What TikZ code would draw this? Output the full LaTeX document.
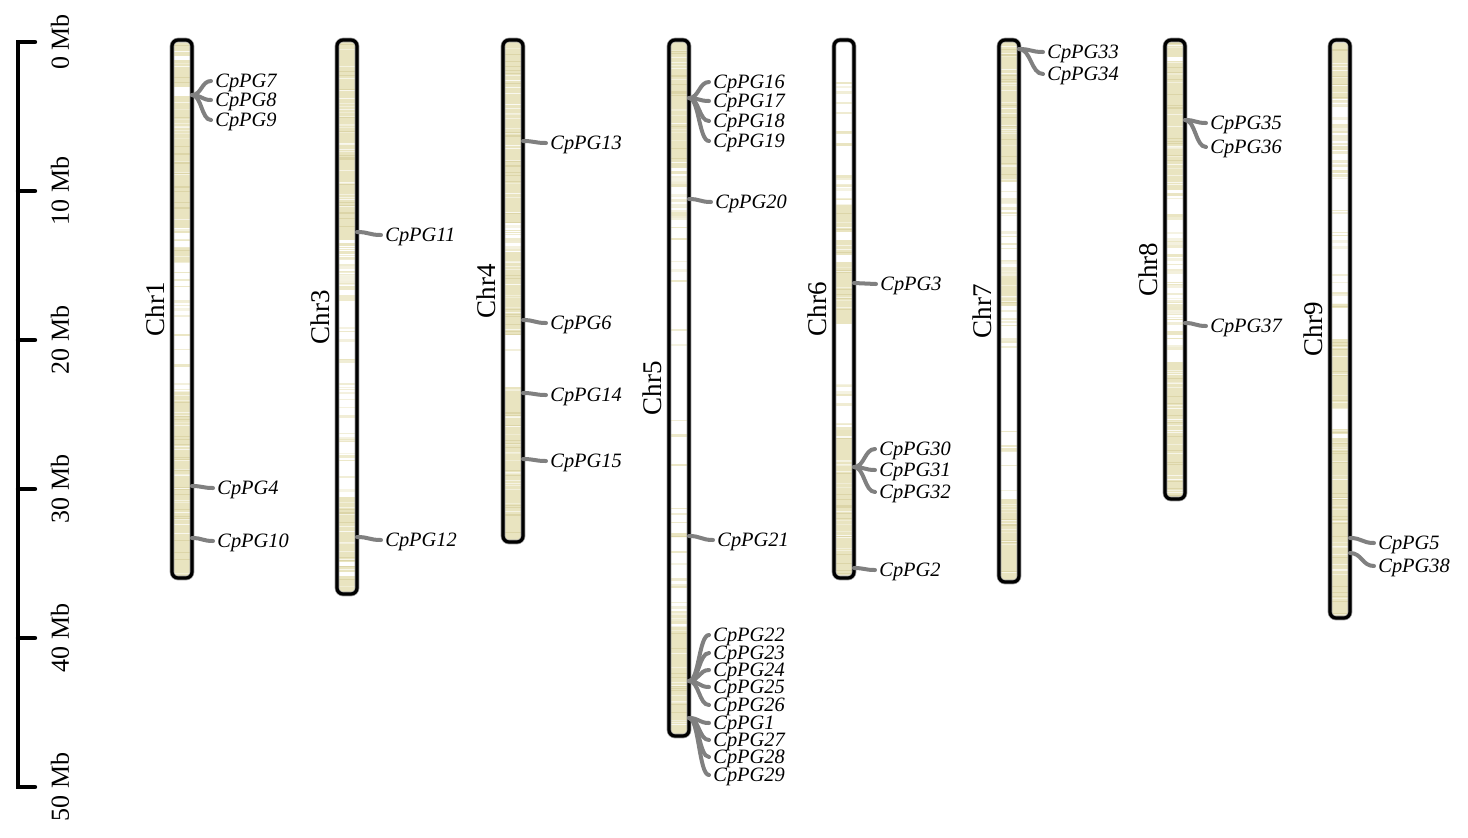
\documentclass[tikz,border=0pt]{standalone}
\usepackage{fontspec}
\setmainfont{Liberation Serif}
\definecolor{band}{RGB}{233,228,192}
\definecolor{bandd}{RGB}{220,213,168}
\definecolor{linkgray}{RGB}{128,128,128}
\tikzset{
 chromline/.style={draw=black, line width=1.6pt, rounded corners=3pt},
 chromhalo/.style={draw=black!40, line width=2.3pt, rounded corners=3pt},
 genelabel/.style={anchor=west, inner xsep=2pt, inner ysep=0pt, text height=6.7pt, text depth=0pt, font=\fontsize{10.2}{12}\selectfont\itshape},
 genelink/.style={draw=linkgray, line width=2pt, line cap=round},
 chrlabel/.style={rotate=90, inner sep=0pt, font=\fontsize{13.5}{16}\selectfont},
 scalelabel/.style={rotate=90, inner sep=0pt, font=\fontsize{13}{16}\selectfont},
 scalebar/.style={line width=2.2pt, line cap=round},
}
\newcommand\densezone[3]{%
 \fill[band] (#1-10,#2) rectangle (#1+10,#3);
 \pgfmathtruncatemacro\nlines{max(1,(#3-#2)/7)}%
 \foreach \k in {1,...,\nlines}{%
  \pgfmathsetmacro\yy{#2+rnd*(#3-#2)}%
  \pgfmathtruncatemacro\pc{20+55*rnd}%
  \fill[band!\pc!white] (#1-10,\yy) rectangle (#1+10,\yy+1);
 }%
 \pgfmathtruncatemacro\nd{max(1,(#3-#2)/10)}%
 \foreach \k in {1,...,\nd}{%
  \pgfmathsetmacro\yy{#2+rnd*(#3-#2)}%
  \fill[bandd] (#1-10,\yy) rectangle (#1+10,\yy+0.8);
 }%
}
\newcommand\lightzone[4]{%
 \foreach \k in {1,...,#4}{%
  \pgfmathsetmacro\yy{#2+rnd*(#3-#2)}%
  \pgfmathsetmacro\hh{0.7+2.5*rnd}%
  \pgfmathtruncatemacro\pc{40+60*rnd}%
  \fill[band!\pc!white] (#1-10,\yy) rectangle (#1+10,\yy+\hh);
 }%
}
\newcommand\chromosome[5]{%
 \def\cx{#1}%
 \begin{scope}
  \clip[rounded corners=3pt] (#1-10,#2) rectangle (#1+10,#3);
  #4
 \end{scope}
 \draw[chromhalo] (#1-10,#2) rectangle (#1+10,#3);
 \draw[chromline] (#1-10,#2) rectangle (#1+10,#3);
 \node[chrlabel] (l#5) at (#1-27,{(#2+#3)/2}) {#5};
}
% #1 id, #2 start x, #3 start y, #4 text x, #5 text y
\newcommand\gene[5]{%
 \coordinate (a#1) at (#2,#3);
 \node[genelabel] (g#1) at (#4-4,#5) {CpPG#1};
 \draw[genelink] (a#1) .. controls ({(#2+#4-4)/2},#3) and ({(#2+#4-4)/2},#5) .. (g#1.west);
}
\begin{document}
\begin{tikzpicture}[x=0.5pt,y=-0.5pt]
\useasboundingbox (0,0) rectangle (1468,837);
\pgfmathsetseed{2024}
% scale bar
\draw[scalebar] (35,42) -- (18,42) -- (18,787) -- (35,787);
\foreach \k in {1,...,4} \draw[scalebar] (18,42+149*\k) -- (35,42+149*\k);
\node[scalelabel] (s0) at (60,42) {0 Mb};
\node[scalelabel] (s10) at (60,191) {10 Mb};
\node[scalelabel] (s20) at (60,340) {20 Mb};
\node[scalelabel] (s30) at (60,489) {30 Mb};
\node[scalelabel] (s40) at (60,638) {40 Mb};
\node[scalelabel] (s50) at (60,787) {50 Mb};
% chromosomes
\chromosome{182}{40}{578}{\densezone{\cx}{40}{56}\densezone{\cx}{60}{87}\densezone{\cx}{96}{228}\lightzone{\cx}{228}{248}{5}\densezone{\cx}{248}{262}\lightzone{\cx}{262}{300}{3}\lightzone{\cx}{300}{392}{12}\densezone{\cx}{392}{578}}{Chr1}
\chromosome{347}{40}{594}{\densezone{\cx}{40}{240}\lightzone{\cx}{240}{304}{30}\lightzone{\cx}{326}{400}{10}\lightzone{\cx}{400}{437}{3}\lightzone{\cx}{437}{463}{8}\lightzone{\cx}{463}{497}{2}\densezone{\cx}{497}{562}\densezone{\cx}{566}{572}\densezone{\cx}{576}{594}}{Chr3}
\chromosome{513}{40}{542}{\densezone{\cx}{40}{222}\lightzone{\cx}{222}{252}{8}\densezone{\cx}{252}{334}\lightzone{\cx}{334}{387}{1}\densezone{\cx}{387}{542}}{Chr4}
\chromosome{679}{40}{736}{\densezone{\cx}{40}{168}\lightzone{\cx}{168}{232}{20}\lightzone{\cx}{232}{530}{12}\densezone{\cx}{533}{538}\lightzone{\cx}{540}{581}{4}\lightzone{\cx}{581}{627}{15}\densezone{\cx}{627}{736}}{Chr5}
\chromosome{844}{40}{578}{\lightzone{\cx}{76}{113}{5}\lightzone{\cx}{113}{168}{3}\lightzone{\cx}{168}{205}{10}\densezone{\cx}{205}{232}\densezone{\cx}{240}{255}\densezone{\cx}{262}{324}\lightzone{\cx}{379}{430}{10}\densezone{\cx}{430}{578}}{Chr6}
\chromosome{1009}{40}{582}{\densezone{\cx}{40}{182}\lightzone{\cx}{182}{278}{25}\densezone{\cx}{278}{306}\lightzone{\cx}{306}{352}{8}\lightzone{\cx}{352}{499}{6}\densezone{\cx}{499}{582}}{Chr7}
\chromosome{1175}{40}{499}{\densezone{\cx}{40}{57}\densezone{\cx}{61}{190}\lightzone{\cx}{190}{218}{8}\lightzone{\cx}{232}{244}{4}\lightzone{\cx}{244}{320}{25}\lightzone{\cx}{320}{350}{8}\densezone{\cx}{362}{499}}{Chr8}
\chromosome{1340}{40}{618}{\densezone{\cx}{40}{99}\lightzone{\cx}{99}{190}{30}\lightzone{\cx}{190}{300}{10}\densezone{\cx}{303}{308}\densezone{\cx}{339}{408}\densezone{\cx}{429}{434}\densezone{\cx}{438}{618}}{Chr9}
% genes
\gene{7}{192}{95}{215}{81}
\gene{8}{192}{95}{215}{100}
\gene{9}{192}{95}{215}{120}
\gene{4}{192}{486}{217}{488}
\gene{10}{192}{538}{217}{541}
\gene{11}{357}{232}{385}{235}
\gene{12}{357}{537}{385}{540}
\gene{13}{523}{141}{550}{143}
\gene{6}{523}{320}{550}{323}
\gene{14}{523}{393}{550}{395}
\gene{15}{523}{459}{550}{461}
\gene{16}{689}{98}{713}{82}
\gene{17}{689}{98}{713}{101}
\gene{18}{689}{98}{713}{121}
\gene{19}{689}{98}{713}{141}
\gene{20}{689}{199}{715}{202}
\gene{21}{689}{536}{717}{540}
\gene{22}{689}{681}{713}{635}
\gene{23}{689}{681}{713}{653}
\gene{24}{689}{681}{713}{670}
\gene{25}{689}{681}{713}{687}
\gene{26}{689}{681}{713}{705}
\gene{1}{689}{718}{713}{723}
\gene{27}{689}{718}{713}{740}
\gene{28}{689}{718}{713}{757}
\gene{29}{689}{718}{713}{775}
\gene{3}{854}{283}{880}{284}
\gene{30}{854}{467}{879}{449}
\gene{31}{854}{467}{879}{470}
\gene{32}{854}{467}{879}{492}
\gene{2}{854}{568}{879}{570}
\gene{33}{1019}{49}{1047}{52}
\gene{34}{1019}{49}{1047}{74}
\gene{35}{1185}{120}{1210}{123}
\gene{36}{1185}{120}{1210}{147}
\gene{37}{1185}{323}{1210}{326}
\gene{5}{1350}{538}{1378}{543}
\gene{38}{1350}{553}{1378}{566}
\end{tikzpicture}
\end{document}
